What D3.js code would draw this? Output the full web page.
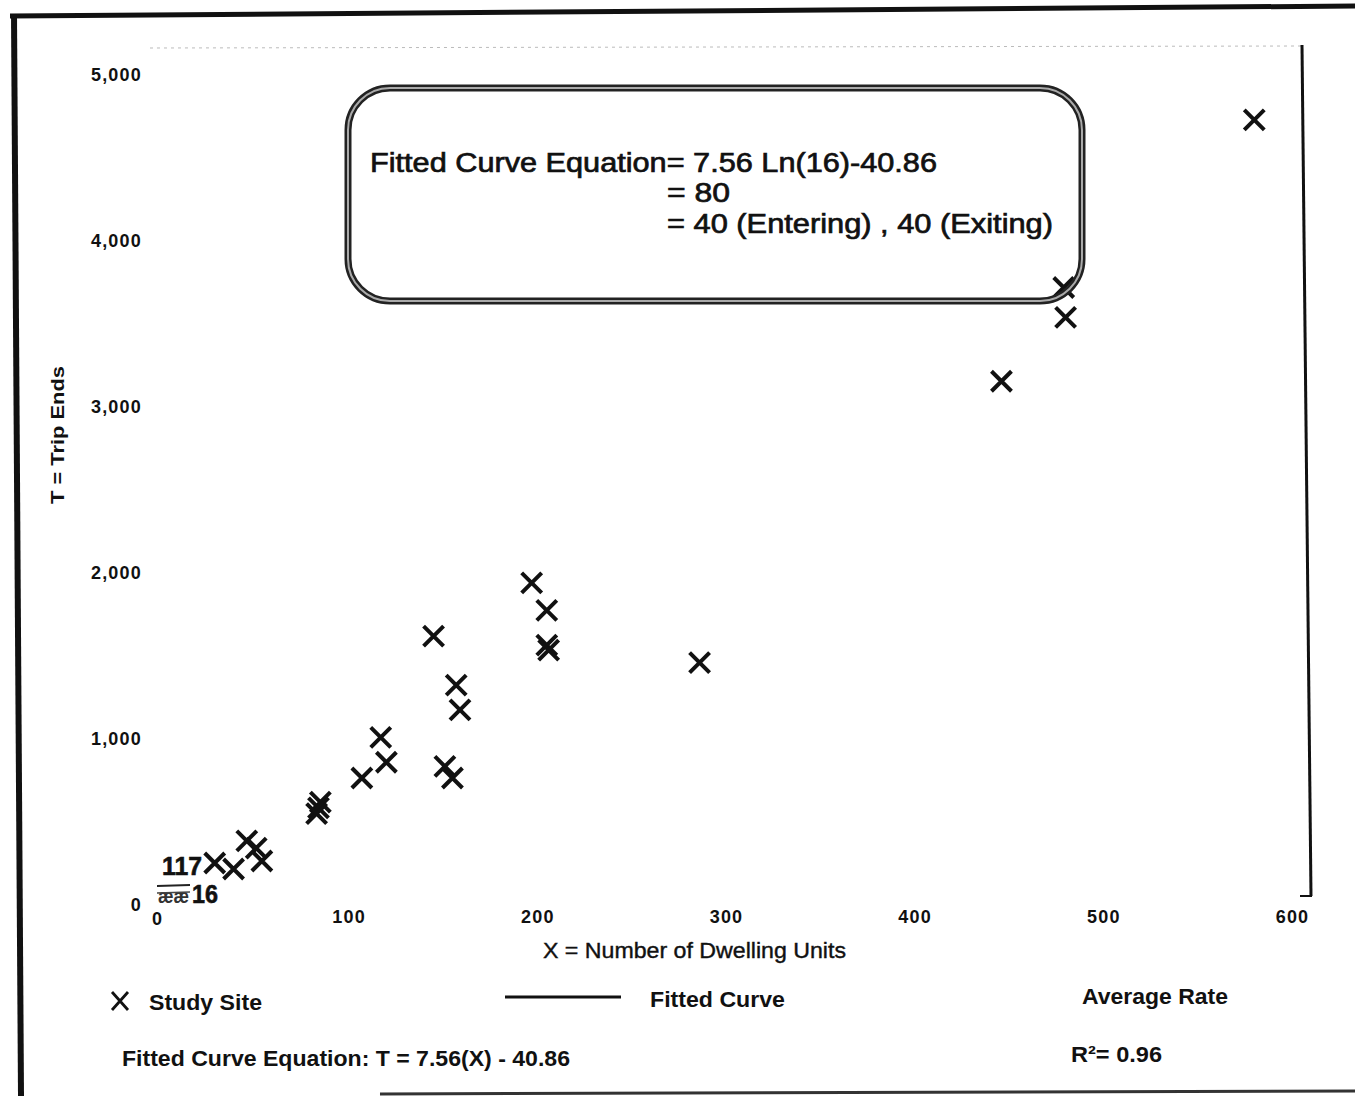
<!DOCTYPE html>
<html>
<head>
<meta charset="utf-8">
<script src="https://cdn.jsdelivr.net/npm/d3@7"></script>
<style>
  html, body { margin: 0; padding: 0; background: #fff; }
  svg { display: block; font-family: "Liberation Sans", Arial, sans-serif; }
  .narrow { font-family: "Liberation Sans Narrow", "Liberation Sans", Arial, sans-serif; }
</style>
</head>
<body>
<div id="chart"></div>
<script>
// Data
const dwellingUnits = [580, 480, 479, 446, 286, 197, 205, 205, 206, 145, 157, 159, 117, 120, 107, 151, 155, 85, 84, 83, 29, 39, 46, 51, 54];
const tripEnds = [4730, 3540, 3720, 3155, 1460, 1940, 1775, 1565, 1535, 1620, 1325, 1175, 1010, 860, 765, 835, 765, 620, 585, 550, 253, 217, 386, 343, 265];

const xTicks = [0, 100, 200, 300, 400, 500, 600];
const yTicks = [0, 1000, 2000, 3000, 4000, 5000];

const xTitle = "X = Number of Dwelling Units";
const yTitle = "T = Trip Ends";

const boxLines = ["Fitted Curve Equation= 7.56 Ln(16)-40.86", "= 80", "= 40 (Entering) , 40 (Exiting)"];
const pointLabels = ["117", "ææ", "16"];

const legendLabels = ["Study Site", "Fitted Curve", "Average Rate"];
const equationText = "Fitted Curve Equation: T = 7.56(X) - 40.86";
const rSquaredText = "R²= 0.96";

// Dimensions
const dimensions = { width: 1355, height: 1096 };

const svg = d3
  .select("#chart")
  .append("svg")
  .attr("width", dimensions.width)
  .attr("height", dimensions.height);

// Scales
const xScale = d3.scaleLinear().domain([0, 600]).range([160, 1292]);
const yScale = d3.scaleLinear().domain([0, 5000]).range([905, 75]);

// Page frame (scan borders)
svg.append("line").attr("x1", 14).attr("y1", 14).attr("x2", 21).attr("y2", 1096)
  .attr("stroke", "#111").attr("stroke-width", 6);
svg.append("line").attr("x1", 10).attr("y1", 16).attr("x2", 1355).attr("y2", 6)
  .attr("stroke", "#111").attr("stroke-width", 5);
svg.append("line").attr("x1", 380).attr("y1", 1094).attr("x2", 1355).attr("y2", 1091)
  .attr("stroke", "#333").attr("stroke-width", 3);

// Plot frame: faint top edge, dark right edge
svg.append("line").attr("x1", 150).attr("y1", 48).attr("x2", 1302).attr("y2", 46)
  .attr("stroke", "#bbb").attr("stroke-width", 1).attr("stroke-dasharray", "3,4");
svg.append("line").attr("x1", 1302).attr("y1", 45).attr("x2", 1311).attr("y2", 896)
  .attr("stroke", "#111").attr("stroke-width", 3);
svg.append("line").attr("x1", 1300).attr("y1", 896).attr("x2", 1312).attr("y2", 896)
  .attr("stroke", "#111").attr("stroke-width", 2);

// Axes
const xAxis = d3.axisBottom(xScale).tickValues(xTicks).tickSize(0).tickPadding(5).tickFormat(d3.format(","));
const yAxis = d3.axisLeft(yScale).tickValues(yTicks).tickSize(0).tickPadding(18).tickFormat(d3.format(","));

const xAxisG = svg.append("g").attr("transform", "translate(0, 905)").call(xAxis);
const yAxisG = svg.append("g").attr("transform", "translate(160, 0)").call(yAxis);

[xAxisG, yAxisG].forEach((g) => {
  g.select(".domain").remove();
  g.selectAll("text")
    .attr("fill", "#111")
    .style("font-size", "18px")
    .style("font-weight", "bold")
    .style("letter-spacing", "1.2px");
});
xAxisG.selectAll(".tick").filter((d) => d === 0).select("text").attr("x", -3).attr("y", 7);

// Axis titles
svg.append("text")
  .attr("class", "narrow")
  .attr("x", 543).attr("y", 958)
  .attr("textLength", 303).attr("lengthAdjust", "spacingAndGlyphs")
  .style("font-size", "22px")
  .attr("fill", "#111").attr("stroke", "#111").attr("stroke-width", 0.4)
  .text(xTitle);

svg.append("text")
  .attr("class", "narrow")
  .attr("transform", "translate(64, 504) rotate(-90)")
  .attr("textLength", 138).attr("lengthAdjust", "spacingAndGlyphs")
  .style("font-size", "19px")
  .style("font-weight", "bold")
  .attr("fill", "#111")
  .text(yTitle);

// Study site markers
const crossPath = "M-10,-10L10,10M10,-10L-10,10";
svg.append("g")
  .selectAll("path")
  .data(dwellingUnits.map((x, i) => ({ x, y: tripEnds[i] })))
  .join("path")
  .attr("transform", (d) => `translate(${xScale(d.x)}, ${yScale(d.y)})`)
  .attr("d", crossPath)
  .attr("fill", "none")
  .attr("stroke", "#111")
  .attr("stroke-width", 4);

// Labels near the origin (overprinted in the source)
const labelG = svg.append("g").attr("class", "narrow").style("font-weight", "bold").attr("fill", "#111");
labelG.append("text").attr("x", 162).attr("y", 875).attr("textLength", 40).attr("lengthAdjust", "spacingAndGlyphs")
  .style("font-size", "26px").attr("stroke", "#111").attr("stroke-width", 0.6).text(pointLabels[0]);
labelG.append("text").attr("x", 158).attr("y", 903).attr("textLength", 31).attr("lengthAdjust", "spacingAndGlyphs")
  .style("font-size", "20px").attr("fill", "#333").text(pointLabels[1]);
labelG.append("text").attr("x", 192).attr("y", 903).attr("textLength", 26).attr("lengthAdjust", "spacingAndGlyphs")
  .style("font-size", "26px").attr("stroke", "#111").attr("stroke-width", 0.6).text(pointLabels[2]);
svg.append("line").attr("x1", 157).attr("y1", 886).attr("x2", 190).attr("y2", 885).attr("stroke", "#222").attr("stroke-width", 2);
svg.append("line").attr("x1", 157).attr("y1", 893).attr("x2", 190).attr("y2", 892).attr("stroke", "#444").attr("stroke-width", 1.5);

// Annotation box
svg.append("rect")
  .attr("x", 348).attr("y", 88).attr("width", 734).attr("height", 213)
  .attr("rx", 42).attr("ry", 42)
  .attr("fill", "none").attr("stroke", "#222").attr("stroke-width", 7);
svg.append("rect")
  .attr("x", 348).attr("y", 88).attr("width", 734).attr("height", 213)
  .attr("rx", 42).attr("ry", 42)
  .attr("fill", "none").attr("stroke", "#aaa").attr("stroke-width", 2);

const boxPos = [
  { x: 370, y: 172, w: 567 },
  { x: 667, y: 202, w: 63 },
  { x: 667, y: 233, w: 386 },
];
svg.append("g")
  .selectAll("text")
  .data(boxLines)
  .join("text")
  .attr("x", (d, i) => boxPos[i].x)
  .attr("y", (d, i) => boxPos[i].y)
  .attr("textLength", (d, i) => boxPos[i].w)
  .attr("lengthAdjust", "spacingAndGlyphs")
  .style("font-size", "27px")
  .attr("fill", "#111")
  .attr("stroke", "#111")
  .attr("stroke-width", 0.7)
  .text((d) => d);

// Legend
const legend = svg.append("g").attr("class", "narrow").style("font-weight", "bold").attr("fill", "#111");
legend.append("path")
  .attr("transform", "translate(120, 1001)")
  .attr("d", "M-8,-9L8,9M8,-9L-8,9")
  .attr("fill", "none").attr("stroke", "#111").attr("stroke-width", 2.8);
legend.append("line").attr("x1", 505).attr("y1", 997).attr("x2", 621).attr("y2", 997)
  .attr("stroke", "#111").attr("stroke-width", 3);

const legendPos = [
  { x: 149, y: 1010, w: 113 },
  { x: 650, y: 1007, w: 135 },
  { x: 1082, y: 1004, w: 146 },
];
legend.selectAll("text.leg")
  .data(legendLabels)
  .join("text")
  .attr("class", "leg")
  .attr("x", (d, i) => legendPos[i].x)
  .attr("y", (d, i) => legendPos[i].y)
  .attr("textLength", (d, i) => legendPos[i].w)
  .attr("lengthAdjust", "spacingAndGlyphs")
  .style("font-size", "22px")
  .text((d) => d);

legend.append("text").attr("x", 122).attr("y", 1066)
  .attr("textLength", 448).attr("lengthAdjust", "spacingAndGlyphs")
  .style("font-size", "22px").text(equationText);
legend.append("text").attr("x", 1071).attr("y", 1062)
  .attr("textLength", 91).attr("lengthAdjust", "spacingAndGlyphs")
  .style("font-size", "22px").text(rSquaredText);
</script>
</body>
</html>
